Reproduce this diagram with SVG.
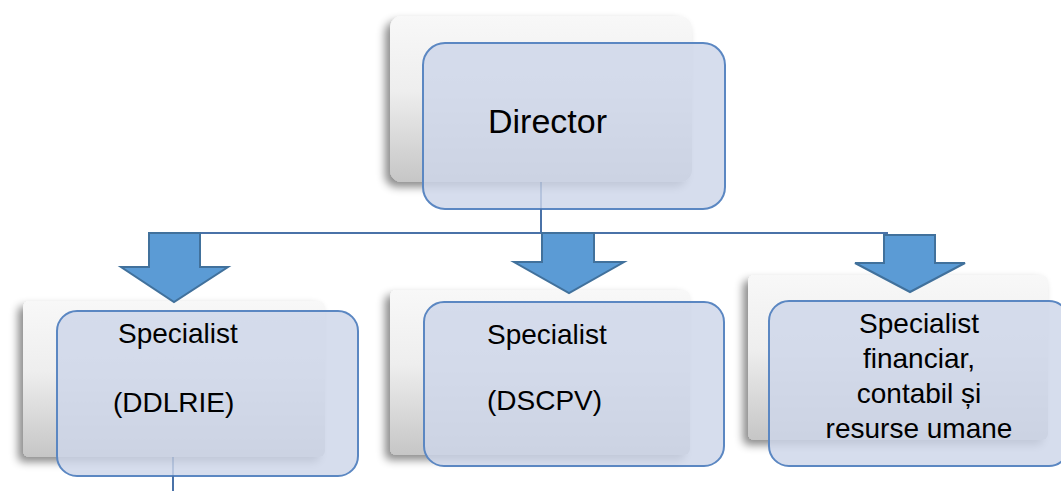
<svg xmlns="http://www.w3.org/2000/svg" width="1061" height="491" viewBox="0 0 1061 491">
  <defs>
    <linearGradient id="shadeGrad" x1="0" y1="0" x2="0" y2="1">
      <stop offset="0" stop-color="#f8f8f8"/>
      <stop offset="0.45" stop-color="#eeeeee"/>
      <stop offset="1" stop-color="#c6c6c6"/>
    </linearGradient>
    <filter id="drop" x="-10%" y="-10%" width="120%" height="125%">
      <feDropShadow dx="-5" dy="5" stdDeviation="4" flood-color="#000000" flood-opacity="0.45"/>
    </filter>
  </defs>
  <style>
    .back { fill: url(#shadeGrad); filter: url(#drop); }
    .front { fill: #cdd6e9; fill-opacity: 0.82; stroke: #5b87c2; stroke-width: 2; }
    .lbl { font-family: "Liberation Sans", Arial, sans-serif; fill: #000000; }
    .line { fill: none; stroke: #4a72a8; stroke-width: 2; }
    .faint { fill: none; stroke: #4a72a8; stroke-width: 1.5; opacity: 0.3; }
    .arrow { fill: #5b9bd5; stroke: #41719c; stroke-width: 2; stroke-linejoin: miter; }
  </style>
  <rect width="1061" height="491" fill="#ffffff"/>

  <g id="node-director">
    <rect class="back" x="390" y="16" width="302" height="166" rx="12"/>
    <rect class="front" x="423" y="43" width="302" height="166" rx="22"/>
    <text class="lbl" x="488" y="133" font-size="34">Director</text>
  </g>

  <g id="node-ddlrie">
    <rect class="back" x="23" y="301" width="302" height="156" rx="6"/>
    <rect class="front" x="57" y="311" width="301" height="165" rx="20"/>
    <text class="lbl" x="118" y="343" font-size="28">Specialist</text>
    <text class="lbl" x="113" y="412" font-size="28">(DDLRIE)</text>
  </g>

  <g id="node-dscpv">
    <rect class="back" x="390" y="290" width="300" height="165" rx="6"/>
    <rect class="front" x="424" y="302" width="300" height="164" rx="20"/>
    <text class="lbl" x="487" y="344" font-size="28">Specialist</text>
    <text class="lbl" x="487" y="410" font-size="28">(DSCPV)</text>
  </g>

  <g id="node-financiar">
    <rect class="back" x="748" y="275" width="300" height="165" rx="6"/>
    <rect class="front" x="769" y="301" width="300" height="165" rx="20"/>
    <text class="lbl" x="919" y="333" font-size="28" text-anchor="middle">Specialist</text>
    <text class="lbl" x="919" y="368" font-size="28" text-anchor="middle">financiar,</text>
    <text class="lbl" x="919" y="403" font-size="28" text-anchor="middle">contabil și</text>
    <text class="lbl" x="919" y="438" font-size="28" text-anchor="middle">resurse umane</text>
  </g>

  <g id="connectors">
    <line class="faint" x1="541" y1="182" x2="541" y2="209"/>
    <line class="line" x1="541" y1="209" x2="541" y2="233"/>
    <polyline class="line" points="173,233 887,233 887,236"/>
    <line class="faint" x1="173" y1="457" x2="173" y2="476"/>
    <line class="line" x1="173" y1="476" x2="173" y2="491"/>
    <polygon class="arrow" points="149,233 200,233 200,267 228,267 174,302 121,267 149,267"/>
    <polygon class="arrow" points="542,233 594,233 594,262 624,262 569,293 514,262 542,262"/>
    <polygon class="arrow" points="884,235 935,235 935,263 965,263 910,292 855,263 884,263"/>
  </g>
</svg>
